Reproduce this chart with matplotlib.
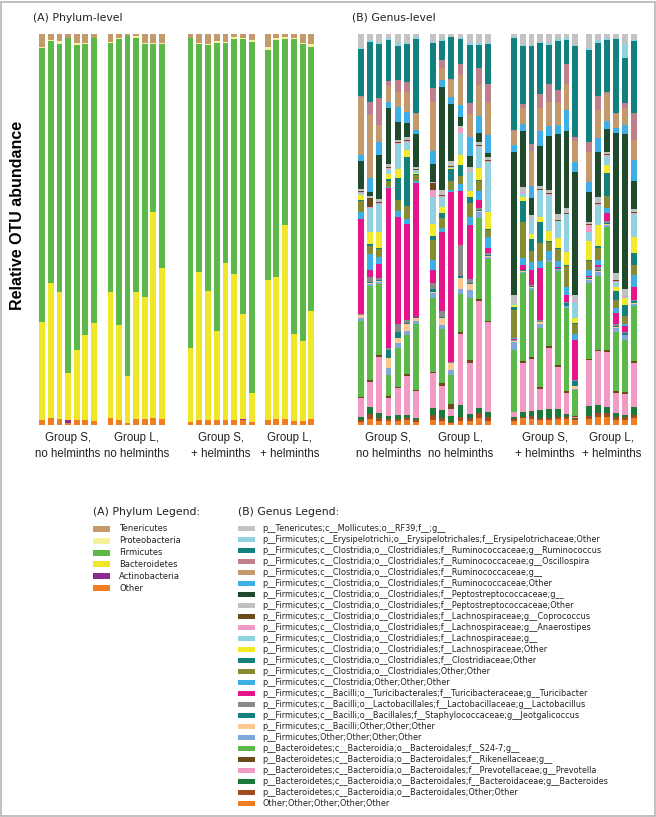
import matplotlib
matplotlib.use('Agg')
import matplotlib.pyplot as plt
from matplotlib.patches import Rectangle
import numpy as np

W, H = 656, 817

# ---------------- labels ----------------
group_labels = ["Group S,\nno helminths", "Group L,\nno helminths",
                "Group S,\n+ helminths", "Group L,\n+ helminths"]
group_sizes = [7, 7, 8, 6]

# ---------------- phylum data (percent, per sample) ----------------
phy_other = [1.3, 1.7, 1.5, 0.5, 1.3, 1.3, 1.0,
             1.7, 1.3, 0.6, 1.5, 1.5, 1.7, 1.5,
             0.8, 1.3, 1.3, 1.3, 1.3, 1.3, 1.3, 0.8,
             1.3, 1.5, 1.5, 0.9, 1.1, 1.5]
phy_actinobacteria = [0, 0, 0, 0.8, 0, 0, 0,
                      0, 0, 0, 0, 0, 0, 0,
                      0, 0, 0, 0, 0, 0, 0.2, 0,
                      0, 0, 0, 0.2, 0, 0]
phy_bacteroidetes = [25.1, 34.7, 32.6, 12.1, 17.9, 21.7, 25.2,
                     32.4, 24.3, 12.0, 32.6, 31.3, 52.7, 38.7,
                     18.8, 37.9, 33.0, 22.7, 40.2, 37.2, 26.8, 7.5,
                     35.8, 36.4, 49.7, 22.1, 20.4, 27.7]
phy_firmicutes = [70.1, 61.8, 63.3, 85.6, 77.9, 74.5, 72.8,
                  63.7, 73.1, 86.9, 64.9, 64.6, 43.1, 57.3,
                  79.4, 58.2, 62.8, 73.6, 56.1, 60.3, 70.4, 89.7,
                  58.8, 60.5, 47.6, 75.6, 75.9, 67.4]
phy_proteobacteria = [0.3, 0.3, 0.7, 0.1, 0.5, 0.2, 0.1,
                      0.2, 0.3, 0.1, 0.4, 0.2, 0.2, 0.1,
                      0.1, 0.3, 0.4, 0.7, 0.4, 0.5, 0.4, 0.4,
                      0.8, 0.6, 0.5, 0.3, 0.2, 0.8]
phy_tenericutes = [3.2, 1.5, 1.9, 0.9, 2.4, 2.3, 0.9,
                   2.0, 1.0, 0.4, 0.6, 2.4, 2.3, 2.4,
                   0.9, 2.3, 2.5, 1.7, 2.0, 0.7, 0.9, 1.6,
                   3.3, 1.0, 0.7, 0.9, 2.4, 2.6]

phylum_names = ["Tenericutes", "Proteobacteria", "Firmicutes",
                "Bacteroidetes", "Actinobacteria", "Other"]
phylum_colors = ["#c49a6c", "#f6f19c", "#5cb848", "#f0e62a", "#8e2a8e", "#f07d22"]

# ---------------- genus data (percent, per sample) ----------------
g_tenericutes = [3.7, 1.5, 2.0, 1.1, 2.4, 2.2, 0.9, 2.0, 1.4, 0.7, 0.9, 2.4, 2.4, 2.4,
                 0.9, 2.8, 2.8, 2.0, 2.4, 1.4, 1.1, 2.8, 3.7, 1.5, 1.1, 1.1, 2.6, 1.5]
g_erysipelo = [0.3, 0.4, 0.6, 0.3, 0.6, 0.4, 0.3, 0.3, 0.4, 0.2, 0.3, 0.4, 0.4, 0.3,
               0.2, 0.4, 0.3, 0.4, 0.4, 0.3, 0.4, 0.3, 0.4, 0.9, 0.4, 0.3, 3.7, 0.3]
g_ruminococcus = [12.0, 14.5, 13.9, 10.5, 8.7, 9.8, 19.3, 11.5, 4.9, 10.9, 6.6, 14.9, 6.0, 10.2,
                  24.1, 15.1, 25.3, 13.2, 10.2, 12.8, 6.4, 23.6, 24.1, 13.6, 13.6, 19.0, 11.7, 18.6]
g_oscillospira = [0.3, 3.0, 6.8, 1.4, 3.0, 2.6, 0.2, 3.7, 2.1, 0.3, 2.6, 3.0, 4.3, 5.1,
                  0.2, 1.1, 2.0, 3.6, 4.9, 3.4, 5.1, 1.1, 2.7, 3.8, 0.3, 0.3, 1.5, 7.0]
g_rumino_g = [15.1, 15.2, 4.5, 4.0, 4.0, 5.1, 4.4, 12.5, 3.0, 4.4, 7.7, 6.0, 8.1, 8.4,
              3.7, 4.0, 9.0, 6.0, 6.1, 5.7, 6.8, 5.4, 7.8, 7.2, 7.2, 3.6, 4.3, 5.1]
g_rumino_oth = [1.7, 3.4, 3.4, 1.5, 3.7, 2.8, 1.0, 3.4, 2.0, 1.9, 3.2, 4.7, 4.5, 4.6,
                1.7, 2.0, 3.1, 3.9, 2.6, 2.3, 5.5, 2.7, 2.8, 3.8, 2.1, 1.3, 2.4, 5.5]
g_pepto_g = [7.3, 0.9, 11.3, 14.3, 4.5, 3.6, 8.4, 4.5, 26.6, 14.7, 2.3, 3.0, 2.3, 1.1,
             37.5, 14.5, 4.3, 10.4, 14.3, 21.0, 20.0, 32.0, 7.7, 11.5, 6.0, 36.4, 40.7, 7.2]
g_pepto_oth = [0.5, 0.6, 0.8, 0.8, 0.6, 0.8, 0.6, 0.4, 1.4, 1.4, 0.4, 0.9, 0.8, 0.8,
               2.3, 1.3, 0.8, 0.8, 0.8, 1.4, 1.3, 1.4, 0.6, 1.7, 0.6, 2.0, 1.7, 0.8]
g_coprococcus = [0.2, 2.1, 0.2, 0.2, 0.2, 0.2, 0.2, 1.7, 0.3, 0.2, 0.2, 0.2, 0.2, 0.2,
                 0.1, 0.2, 0.2, 0.2, 0.2, 0.2, 0.2, 0.2, 0.3, 0.3, 0.3, 0.3, 0.2, 0.3]
g_anaerostipes = [0.2, 0.3, 0.2, 0.2, 0.2, 0.2, 0.2, 1.7, 0.2, 0.1, 1.3, 0.2, 0.2, 0.2,
                  0.1, 0.2, 0.2, 0.2, 0.2, 0.2, 0.2, 0.2, 1.7, 0.2, 0.2, 0.2, 0.2, 0.2]
g_lachno_g = [0.5, 5.7, 7.2, 1.4, 6.6, 2.1, 0.6, 7.0, 2.4, 0.3, 5.5, 4.9, 5.5, 13.0,
              0.3, 1.0, 3.8, 6.8, 9.4, 4.3, 9.8, 4.1, 2.4, 5.1, 2.4, 1.3, 0.3, 6.0]
g_lachno_oth = [1.3, 2.8, 4.0, 1.3, 2.2, 2.0, 0.4, 3.2, 1.7, 0.2, 2.6, 1.4, 3.2, 4.3,
                0.4, 1.1, 1.4, 1.3, 2.7, 2.6, 3.4, 1.3, 4.9, 5.5, 1.9, 1.0, 1.7, 4.3]
g_clostridiaceae = [0.2, 0.4, 0.3, 0.5, 5.5, 12.4, 0.2, 0.9, 1.3, 3.2, 2.7, 1.7, 0.3, 0.3,
                    0.9, 5.4, 3.1, 5.5, 0.3, 0.3, 0.3, 0.3, 0.3, 0.6, 6.1, 2.2, 3.0, 2.9]
g_clostridiales_oth = [3.0, 2.0, 2.1, 1.4, 3.0, 3.4, 1.7, 5.1, 2.6, 2.4, 2.2, 3.7, 2.6, 2.0,
                       7.2, 9.5, 2.7, 4.7, 2.4, 3.0, 5.5, 2.6, 2.3, 3.0, 3.0, 2.3, 2.1, 2.8]
g_clostridia_oth = [1.9, 3.8, 1.7, 0.4, 1.4, 1.3, 0.3, 2.7, 0.9, 0.3, 1.7, 1.9, 2.3, 2.8,
                    0.3, 1.9, 2.1, 1.9, 1.9, 1.7, 2.1, 1.4, 1.7, 1.5, 1.3, 1.3, 0.4, 3.0]
g_turicibacter = [24.5, 1.7, 3.8, 40.7, 27.3, 24.7, 35.0, 3.4, 20.5, 44.5, 13.8, 14.1, 2.1, 1.3,
                  0.3, 1.1, 3.8, 13.5, 0.2, 0.2, 1.7, 10.5, 0.2, 0.3, 2.1, 2.8, 1.7, 3.4]
g_lactobacillus = [0.2, 1.3, 0.4, 0.3, 1.9, 0.9, 0.1, 1.3, 1.7, 0.2, 8.1, 0.8, 0.5, 0.5,
                   0.1, 0.2, 0.5, 0.4, 0.1, 0.1, 0.2, 0.3, 0.3, 1.0, 0.5, 0.5, 0.3, 0.3]
g_jeotgalicoccus = [0.1, 0.2, 0.2, 2.1, 1.7, 0.3, 0.1, 0.8, 0.3, 0.2, 0.6, 0.3, 0.2, 0.2,
                    0.2, 0.2, 0.2, 0.2, 0.1, 0.1, 0.8, 1.3, 0.2, 0.2, 0.3, 0.3, 0.3, 0.4]
g_bacilli_oth = [0.7, 0.3, 0.3, 2.6, 1.3, 1.7, 0.9, 0.4, 1.7, 1.7, 2.6, 1.7, 0.3, 0.3,
                 0.1, 0.1, 0.2, 0.3, 0.1, 0.1, 0.2, 0.7, 0.2, 0.2, 0.2, 0.3, 0.2, 0.2]
g_firm_oth = [1.0, 0.4, 0.6, 1.7, 1.3, 0.9, 0.8, 1.3, 1.0, 1.3, 1.3, 2.1, 1.5, 0.6,
              2.1, 0.4, 0.4, 1.3, 0.4, 0.4, 0.4, 0.4, 0.8, 1.0, 0.6, 1.0, 1.3, 0.6]
g_s24_7 = [19.6, 22.6, 18.3, 5.5, 9.8, 10.2, 17.0, 18.8, 13.9, 7.7, 9.8, 15.8, 20.9, 16.0,
           16.2, 23.0, 17.5, 15.3, 22.0, 24.6, 21.7, 6.6, 20.0, 19.2, 32.0, 15.3, 13.6, 14.3]
g_rikenellaceae = [0.4, 0.4, 0.4, 0.4, 0.4, 0.4, 0.4, 0.4, 0.8, 1.3, 0.6, 0.8, 0.6, 0.4,
                   0.2, 0.4, 0.4, 0.4, 0.6, 0.4, 0.4, 0.2, 0.4, 0.4, 0.6, 0.4, 0.4, 0.4]
g_prevotella = [4.9, 6.0, 14.5, 4.7, 6.8, 10.0, 7.1, 9.0, 6.4, 1.7, 18.2, 13.2, 27.9, 23.3,
                1.3, 12.8, 13.6, 5.5, 15.8, 10.9, 5.5, 0.3, 11.9, 14.1, 14.3, 5.4, 5.5, 11.5]
g_bacteroides = [0.7, 1.7, 1.3, 0.7, 1.0, 1.0, 0.3, 1.7, 1.9, 1.5, 3.0, 1.0, 1.3, 1.3,
                 0.4, 1.3, 1.3, 2.0, 2.4, 2.1, 0.8, 0.3, 2.6, 2.1, 1.5, 0.8, 0.7, 1.9]
g_bacteroidales_oth = [0.4, 1.2, 0.6, 0.4, 0.4, 0.4, 0.5, 1.3, 0.8, 0.3, 1.0, 0.8, 1.3, 1.0,
                       0.5, 0.5, 0.8, 0.5, 0.5, 0.6, 0.6, 0.3, 0.8, 1.0, 1.2, 0.8, 0.6, 0.9]
g_other = [0.9, 1.5, 1.1, 1.1, 1.1, 1.3, 0.9, 1.3, 1.1, 0.6, 1.1, 1.1, 1.7, 1.1,
           1.1, 1.7, 1.5, 1.4, 1.4, 1.5, 1.5, 1.3, 1.6, 2.0, 2.0, 1.4, 1.4, 1.8]

genus_names = [
    "p__Tenericutes;c__Mollicutes;o__RF39;f__;g__",
    "p__Firmicutes;c__Erysipelotrichi;o__Erysipelotrichales;f__Erysipelotrichaceae;Other",
    "p__Firmicutes;c__Clostridia;o__Clostridiales;f__Ruminococcaceae;g__Ruminococcus",
    "p__Firmicutes;c__Clostridia;o__Clostridiales;f__Ruminococcaceae;g__Oscillospira",
    "p__Firmicutes;c__Clostridia;o__Clostridiales;f__Ruminococcaceae;g__",
    "p__Firmicutes;c__Clostridia;o__Clostridiales;f__Ruminococcaceae;Other",
    "p__Firmicutes;c__Clostridia;o__Clostridiales;f__Peptostreptococcaceae;g__",
    "p__Firmicutes;c__Clostridia;o__Clostridiales;f__Peptostreptococcaceae;Other",
    "p__Firmicutes;c__Clostridia;o__Clostridiales;f__Lachnospiraceae;g__Coprococcus",
    "p__Firmicutes;c__Clostridia;o__Clostridiales;f__Lachnospiraceae;g__Anaerostipes",
    "p__Firmicutes;c__Clostridia;o__Clostridiales;f__Lachnospiraceae;g__",
    "p__Firmicutes;c__Clostridia;o__Clostridiales;f__Lachnospiraceae;Other",
    "p__Firmicutes;c__Clostridia;o__Clostridiales;f__Clostridiaceae;Other",
    "p__Firmicutes;c__Clostridia;o__Clostridiales;Other;Other",
    "p__Firmicutes;c__Clostridia;Other;Other;Other",
    "p__Firmicutes;c__Bacilli;o__Turicibacterales;f__Turicibacteraceae;g__Turicibacter",
    "p__Firmicutes;c__Bacilli;o__Lactobacillales;f__Lactobacillaceae;g__Lactobacillus",
    "p__Firmicutes;c__Bacilli;o__Bacillales;f__Staphylococcaceae;g__Jeotgalicoccus",
    "p__Firmicutes;c__Bacilli;Other;Other;Other",
    "p__Firmicutes;Other;Other;Other;Other",
    "p__Bacteroidetes;c__Bacteroidia;o__Bacteroidales;f__S24-7;g__",
    "p__Bacteroidetes;c__Bacteroidia;o__Bacteroidales;f__Rikenellaceae;g__",
    "p__Bacteroidetes;c__Bacteroidia;o__Bacteroidales;f__Prevotellaceae;g__Prevotella",
    "p__Bacteroidetes;c__Bacteroidia;o__Bacteroidales;f__Bacteroidaceae;g__Bacteroides",
    "p__Bacteroidetes;c__Bacteroidia;o__Bacteroidales;Other;Other",
    "Other;Other;Other;Other;Other",
]
genus_colors = ["#c3c3c3", "#90d2e0", "#12807f", "#c07f8c", "#c49a6c", "#3daee6",
                "#1f4a2b", "#c0c0c0", "#6b4a1c", "#f29ac3", "#90d2e0", "#f2e92a",
                "#15807b", "#878b32", "#3daee6", "#e6148b", "#8a8a8a", "#15807f",
                "#fbc98f", "#7fa7d8", "#5cb848", "#6b4a1c", "#f29ac3", "#1b7a3a",
                "#a04b24", "#f07d22"]

genus_values = [g_tenericutes, g_erysipelo, g_ruminococcus, g_oscillospira, g_rumino_g,
                g_rumino_oth, g_pepto_g, g_pepto_oth, g_coprococcus, g_anaerostipes,
                g_lachno_g, g_lachno_oth, g_clostridiaceae, g_clostridiales_oth,
                g_clostridia_oth, g_turicibacter, g_lactobacillus, g_jeotgalicoccus,
                g_bacilli_oth, g_firm_oth, g_s24_7, g_rikenellaceae, g_prevotella,
                g_bacteroides, g_bacteroidales_oth, g_other]
phylum_values = [phy_tenericutes, phy_proteobacteria, phy_firmicutes,
                 phy_bacteroidetes, phy_actinobacteria, phy_other]


def px2fig(x, y):
    return x / W, 1 - y / H


def positions(starts, steps):
    xs = []
    for s, st, n in zip(starts, steps, group_sizes):
        xs.extend([s + i * st for i in range(n)])
    return np.array(xs)


def stacked(ax, xs, values, colors, width):
    arr = np.array(values, dtype=float)          # top->bottom order
    arr = arr / arr.sum(axis=0, keepdims=True)
    bottom = np.zeros(arr.shape[1])
    for row, col in zip(arr[::-1], colors[::-1]):
        ax.bar(xs, row, width=width, bottom=bottom, color=col, linewidth=0)
        bottom += row


fig = plt.figure(figsize=(W / 100, H / 100), dpi=100)
fig.patches.append(Rectangle((0.001, 0.001), 0.997, 0.997, transform=fig.transFigure,
                             fill=False, edgecolor="#b5b5b5", linewidth=1.2))

# ---- phylum panel ----
ax1 = fig.add_axes([37.2 / W, 1 - 425 / H, (316.5 - 37.2) / W, 391 / H])
xs1 = positions([0, 7.95, 17.3, 26.3], [1, 1, 1.02, 1.02])
stacked(ax1, xs1, phylum_values, phylum_colors, 0.68)
ax1.set_xlim(-0.6, 32.0)
ax1.set_ylim(0, 1)
ax1.axis("off")

# ---- genus panel ----
ax2 = fig.add_axes([355.5 / W, 1 - 425 / H, (641.6 - 355.5) / W, 391 / H])
xs2 = positions([0, 7.85, 16.7, 24.9], [1, 1, 0.95, 0.97])
stacked(ax2, xs2, genus_values, genus_colors, 0.62)
ax2.set_xlim(-0.6, 30.6)
ax2.set_ylim(0, 1)
ax2.axis("off")

# group labels
for ax, xs in ((ax1, xs1), (ax2, xs2)):
    i0 = 0
    for lab, n in zip(group_labels, group_sizes):
        xc = (xs[i0] + xs[i0 + n - 1]) / 2
        ax.text(xc, -0.018, lab, ha="center", va="top", fontsize=8.3,
                family="Liberation Sans", linespacing=1.45,
                transform=ax.get_xaxis_transform(), color="#222222")
        i0 += n

# titles
fig.text(*px2fig(33, 18), "(A) Phylum-level", fontsize=7.8, family="DejaVu Sans",
         va="center", ha="left", color="#222222")
fig.text(*px2fig(352, 18), "(B) Genus-level", fontsize=7.8, family="DejaVu Sans",
         va="center", ha="left", color="#222222")
fig.text(*px2fig(18, 215), "Relative OTU abundance", rotation=90, fontsize=11.5,
         fontweight="bold", family="Liberation Sans", ha="center", va="center")

# ---- phylum legend ----
fig.text(*px2fig(92.7, 512), "(A) Phylum Legend:", fontsize=7.8, family="DejaVu Sans",
         va="center", ha="left", color="#222222")
for i, (name, col) in enumerate(zip(phylum_names, phylum_colors)):
    yc = 528.7 + i * 11.9
    fx, fy = px2fig(93, yc + 3)
    fig.patches.append(Rectangle((fx, fy), 17 / W, 6 / H, transform=fig.transFigure,
                                 facecolor=col, edgecolor="none"))
    fig.text(*px2fig(119.3, yc), name, fontsize=6.0, family="DejaVu Sans",
             va="center", ha="left", color="#222222")

# ---- genus legend ----
fig.text(*px2fig(238, 512), "(B) Genus Legend:", fontsize=7.8, family="DejaVu Sans",
         va="center", ha="left", color="#222222")
for i, (name, col) in enumerate(zip(genus_names, genus_colors)):
    yc = 528.3 + i * 10.99
    fx, fy = px2fig(238, yc + 2.5)
    fig.patches.append(Rectangle((fx, fy), 17 / W, 5 / H, transform=fig.transFigure,
                                 facecolor=col, edgecolor="none"))
    fig.text(*px2fig(262.7, yc), name, fontsize=5.85, family="DejaVu Sans",
             va="center", ha="left", color="#222222")

fig.savefig("out.png", dpi=100)
